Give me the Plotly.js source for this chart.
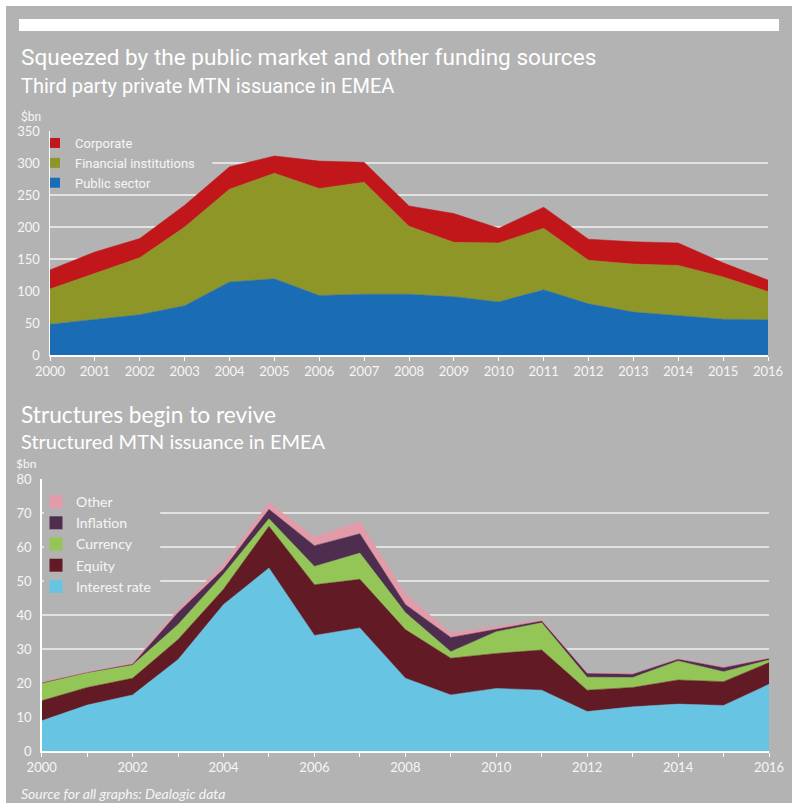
<!DOCTYPE html>
<html>
<head>
<meta charset="utf-8">
<script src="https://cdn.plot.ly/plotly-3.0.1.min.js"></script>
<style>
  html, body { margin: 0; padding: 0; background: #ffffff; }
  #chart { position: absolute; left: 6px; top: 6px; width: 786px; height: 797px; }
</style>
</head>
<body>
<div id="chart"></div>
<script>
// Years shared by both panels
const years = [2000, 2001, 2002, 2003, 2004, 2005, 2006, 2007, 2008,
               2009, 2010, 2011, 2012, 2013, 2014, 2015, 2016];

// Third party private MTN issuance in EMEA ($bn)
const publicSector          = [48, 56, 63, 77, 114, 119, 93, 95, 95, 91, 83, 102, 80, 67, 62, 56, 55];
const financialInstitutions = [55, 72, 89, 123, 145, 165, 167, 175, 106, 85, 92, 96, 68, 75, 78, 66, 44];
const corporate             = [30, 33, 30, 34, 35, 27, 43, 31, 32, 45, 23, 33, 33, 35, 35, 22, 18];

// Structured MTN issuance in EMEA ($bn)
const interestRate = [8.9, 13.5, 16.5, 26.9, 43.1, 53.8, 34.0, 36.2, 21.4, 16.5, 18.4, 17.9, 11.6, 13.0, 13.8, 13.4, 19.6];
const equity       = [5.9, 5.2, 4.9, 5.9, 4.5, 12.3, 14.9, 14.3, 14.3, 10.8, 10.3, 11.8, 6.3, 5.7, 7.1, 7.0, 6.4];
const currency     = [5.1, 4.3, 3.9, 4.4, 4.4, 2.2, 5.4, 7.7, 5.0, 1.9, 6.4, 8.0, 3.8, 2.9, 5.6, 2.9, 0.8];
const inflation    = [0.1, 0.1, 0.2, 3.5, 1.5, 2.8, 6.1, 5.7, 2.4, 4.2, 0.7, 0.5, 1.1, 1.0, 0.5, 1.2, 0.4];
const other        = [0.4, 0.2, 0.5, 1.0, 1.5, 1.9, 2.5, 3.6, 3.0, 1.4, 0.8, 0.5, 0.3, 0.2, 0.2, 0.3, 0.2];

const PANEL = '#b3b3b3';
const TEXT = '#f6f6f6';
const GRID = '#e2e2e2';
const TICK_FONT = { family: 'Lato, sans-serif', size: 13, color: TEXT };

const topSeries = [
  { name: 'Public sector',          y: publicSector,          color: '#1a6db5' },
  { name: 'Financial institutions', y: financialInstitutions, color: '#8f9628' },
  { name: 'Corporate',              y: corporate,             color: '#c1171b' }
];
const bottomSeries = [
  { name: 'Interest rate', y: interestRate, color: '#67c4e2' },
  { name: 'Equity',        y: equity,       color: '#621a25' },
  { name: 'Currency',      y: currency,     color: '#93c656' },
  { name: 'Inflation',     y: inflation,    color: '#4f2d4f' },
  { name: 'Other',         y: other,        color: '#e39aa9' }
];

const traces = [];

// stacked areas
topSeries.forEach(s => traces.push({
  type: 'scatter', x: years, y: s.y, name: s.name,
  stackgroup: 'top', mode: 'lines',
  line: { width: 0.5, color: s.color }, fillcolor: s.color,
  xaxis: 'x', yaxis: 'y', showlegend: false, hoverinfo: 'skip'
}));
bottomSeries.forEach(s => traces.push({
  type: 'scatter', x: years, y: s.y, name: s.name,
  stackgroup: 'bottom', mode: 'lines',
  line: { width: 0.5, color: s.color }, fillcolor: s.color,
  xaxis: 'x2', yaxis: 'y2', showlegend: false, hoverinfo: 'skip'
}));

// legend swatches (top entry first)
topSeries.slice().reverse().forEach(s => traces.push({
  type: 'scatter', x: [null], y: [null], name: s.name, mode: 'markers',
  marker: { symbol: 'square', size: 10, color: s.color },
  xaxis: 'x', yaxis: 'y', legend: 'legend', showlegend: true, hoverinfo: 'skip'
}));
bottomSeries.slice().reverse().forEach(s => traces.push({
  type: 'scatter', x: [null], y: [null], name: s.name, mode: 'markers',
  marker: { symbol: 'square', size: 13, color: s.color },
  xaxis: 'x2', yaxis: 'y2', legend: 'legend2', showlegend: true, hoverinfo: 'skip'
}));

const W = 786, H = 797;
const px = v => v / W;
const py = v => 1 - v / H;

const baseX = {
  range: [2000, 2016], showgrid: false, zeroline: false,
  showline: true, linecolor: '#ffffff', linewidth: 1.5,
  ticks: 'outside', ticklen: 4, tickcolor: '#ffffff', tickwidth: 1,
  tickfont: TICK_FONT, fixedrange: true
};
const baseY = {
  showgrid: true, gridcolor: GRID, gridwidth: 1.5, zeroline: false,
  showline: true, linecolor: '#ffffff', linewidth: 1.5,
  ticks: '', tickfont: TICK_FONT, fixedrange: true, ticklabelstandoff: 6
};

const layout = {
  width: W, height: H,
  margin: { l: 0, r: 0, t: 0, b: 0 },
  paper_bgcolor: PANEL, plot_bgcolor: PANEL,
  showlegend: true,
  xaxis: Object.assign({}, baseX, {
    domain: [px(44), px(762)], anchor: 'y', tick0: 2000, dtick: 1
  }),
  yaxis: Object.assign({}, baseY, {
    domain: [py(349), py(125)], anchor: 'x', range: [0, 350], dtick: 50
  }),
  xaxis2: Object.assign({}, baseX, {
    domain: [px(35.7), px(763)], anchor: 'y2', tick0: 2000, dtick: 2,
    minor: { dtick: 1, ticks: 'outside', ticklen: 4, tickcolor: '#ffffff', showgrid: false }
  }),
  yaxis2: Object.assign({}, baseY, {
    domain: [py(745), py(473)], anchor: 'x2', range: [0, 80], dtick: 10
  }),
  legend: {
    x: px(29), y: py(122), xanchor: 'left', yanchor: 'top',
    bgcolor: 'rgba(0,0,0,0)', borderwidth: 0,
    font: { family: 'Roboto, sans-serif', size: 13, color: TEXT },
    traceorder: 'normal', itemclick: false, itemdoubleclick: false
  },
  legend2: {
    x: px(30), y: py(480), xanchor: 'left', yanchor: 'top',
    bgcolor: 'rgba(0,0,0,0)', borderwidth: 0,
    font: { family: 'Lato, sans-serif', size: 14, color: TEXT },
    traceorder: 'normal', itemclick: false, itemdoubleclick: false
  },
  shapes: [
    // white rule across the top of the panel
    { type: 'rect', xref: 'paper', yref: 'paper',
      x0: px(13), x1: px(773), y0: py(25), y1: py(13),
      fillcolor: '#ffffff', line: { width: 0 }, layer: 'above' },
    // keep gridlines clear behind the legends (no data reaches these corners)
    { type: 'rect', xref: 'x domain', yref: 'y domain',
      x0: 0.003, x1: 0.226, y0: 0.80, y1: 0.95,
      fillcolor: PANEL, line: { width: 0 }, layer: 'above' },
    { type: 'rect', xref: 'x2 domain', yref: 'y2 domain',
      x0: 0.003, x1: 0.163, y0: 0.56, y1: 0.94,
      fillcolor: PANEL, line: { width: 0 }, layer: 'above' }
  ],
  annotations: [
    { text: 'Squeezed by the public market and other funding sources',
      xref: 'paper', yref: 'paper', x: px(13), y: py(51), xanchor: 'left', yanchor: 'middle',
      showarrow: false, font: { family: 'Roboto, sans-serif', size: 22.6, color: '#ffffff' } },
    { text: 'Third party private MTN issuance in EMEA',
      xref: 'paper', yref: 'paper', x: px(13), y: py(80), xanchor: 'left', yanchor: 'middle',
      showarrow: false, font: { family: 'Roboto, sans-serif', size: 20, color: '#ffffff' } },
    { text: '$bn',
      xref: 'paper', yref: 'paper', x: px(13), y: py(111), xanchor: 'left', yanchor: 'middle',
      showarrow: false, font: { family: 'Roboto, sans-serif', size: 12, color: TEXT } },
    { text: 'Structures begin to revive',
      xref: 'paper', yref: 'paper', x: px(13), y: py(408), xanchor: 'left', yanchor: 'middle',
      showarrow: false, font: { family: 'Lato, sans-serif', size: 22.7, color: '#ffffff' } },
    { text: 'Structured MTN issuance in EMEA',
      xref: 'paper', yref: 'paper', x: px(13), y: py(435), xanchor: 'left', yanchor: 'middle',
      showarrow: false, font: { family: 'Lato, sans-serif', size: 20, color: '#ffffff' } },
    { text: '$bn',
      xref: 'paper', yref: 'paper', x: px(8), y: py(458), xanchor: 'left', yanchor: 'middle',
      showarrow: false, font: { family: 'Lato, sans-serif', size: 12, color: TEXT } },
    { text: '<i>Source for all graphs: Dealogic data</i>',
      xref: 'paper', yref: 'paper', x: px(13), y: py(787), xanchor: 'left', yanchor: 'middle',
      showarrow: false, font: { family: 'Lato, sans-serif', size: 14, color: TEXT } }
  ]
};

Plotly.newPlot('chart', traces, layout, { staticPlot: true, displayModeBar: false });
</script>
</body>
</html>
